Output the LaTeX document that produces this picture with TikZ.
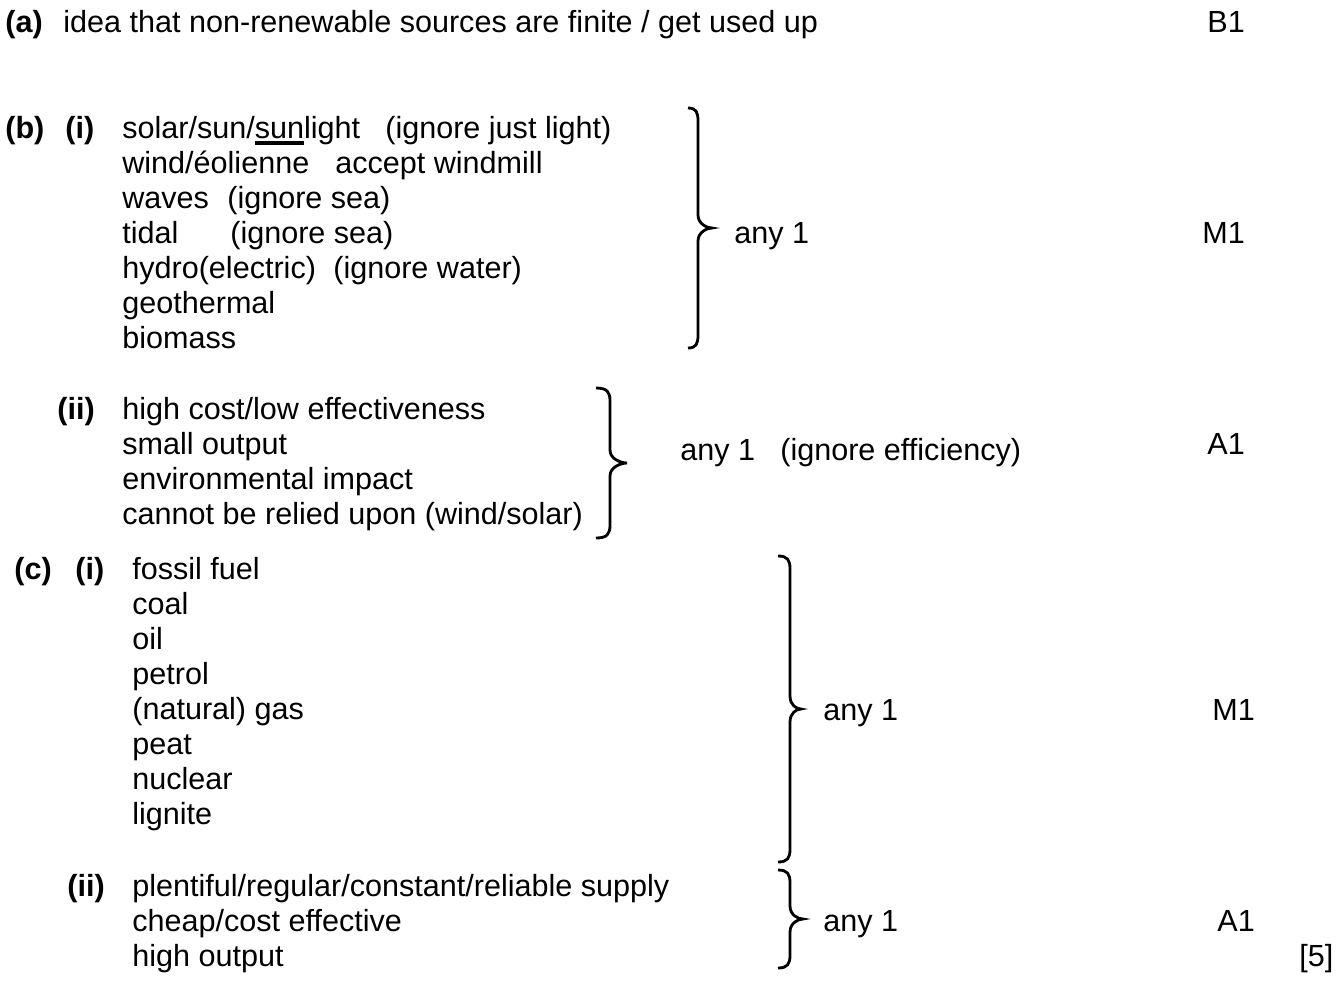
\documentclass[tikz,border=0pt]{standalone}
\usepackage{fontspec}
\setmainfont{Liberation Sans}

\newcommand{\thickul}[1]{\setbox0\hbox{#1}\rlap{\rule[-3.8pt]{\wd0}{2pt}}\box0}
\newcommand{\markbrace}[5]{% x, top, bottom, stem offset, tip offset
  \draw[brace] (#1,#2) .. controls ({#1+0.8*#4},#2) and ({#1+#4},{#2+4}) .. ({#1+#4},{#2+13})
    -- ({#1+#4},{(#2+#3)/2-13}) .. controls ({#1+#4},{(#2+#3)/2-4}) and ({#1+0.8*#5},{(#2+#3)/2}) .. ({#1+#5},{(#2+#3)/2})
    .. controls ({#1+0.8*#5},{(#2+#3)/2}) and ({#1+#4},{(#2+#3)/2+4}) .. ({#1+#4},{(#2+#3)/2+13})
    -- ({#1+#4},{#3-13}) .. controls ({#1+#4},{#3-4}) and ({#1+0.8*#4},#3) .. (#1,#3);}

\tikzset{
  txt/.style={anchor=base west, inner sep=0pt, font=\fontsize{17.4}{20}\selectfont},
  lbl/.style={txt, font=\fontsize{17.4}{20}\selectfont\bfseries},
  brace/.style={line width=1.6pt}
}

\begin{document}
\begin{tikzpicture}[x=0.02cm, y=-0.02cm]
\useasboundingbox (0,0) rectangle (1339,985);

\node[lbl] (a) at (5,32) {(a)};
\node[txt] (ai) at (63,32) {idea that non-renewable sources are finite / get used up};
\node[txt] (aB) at (1207,32) {B1};

\node[lbl] (b) at (5,138) {(b)};
\node[lbl] (bi) at (65,138) {(i)};
\node[txt] (bi1) at (122,138) {solar/sun/\thickul{sun}light};
\node[txt] (bi1n) at (385,138) {(ignore just light)};
\node[txt] (bi2) at (122,173) {wind/éolienne};
\node[txt] (bi2n) at (335,173) {accept windmill};
\node[txt] (bi3) at (122,208) {waves};
\node[txt] (bi3n) at (227,208) {(ignore sea)};
\node[txt] (bi4) at (122,243) {tidal};
\node[txt] (bi4n) at (230,243) {(ignore sea)};
\node[txt] (bi5) at (122,278) {hydro(electric)};
\node[txt] (bi5n) at (333,278) {(ignore water)};
\node[txt] (bi6) at (122,313) {geothermal};
\node[txt] (bi7) at (122,348) {biomass};
\markbrace{688}{108}{348}{10}{24}
\node[txt] (biany) at (734,243) {any 1};
\node[txt] (biM) at (1202,243) {M1};

\node[lbl] (bii) at (57,419) {(ii)};
\node[txt] (bii1) at (122,419) {high cost/low effectiveness};
\node[txt] (bii2) at (122,454) {small output};
\node[txt] (bii3) at (122,489) {environmental impact};
\node[txt] (bii4) at (122,524) {cannot be relied upon (wind/solar)};
\markbrace{596}{388}{538}{14}{31}
\node[txt] (biiany) at (680,460) {any 1};
\node[txt] (biin) at (780,460) {(ignore efficiency)};
\node[txt] (biiA) at (1207,454) {A1};

\node[lbl] (c) at (14,579) {(c)};
\node[lbl] (ci) at (75,579) {(i)};
\node[txt] (ci1) at (132,579) {fossil fuel};
\node[txt] (ci2) at (132,614) {coal};
\node[txt] (ci3) at (132,649) {oil};
\node[txt] (ci4) at (132,684) {petrol};
\node[txt] (ci5) at (132,719) {(natural) gas};
\node[txt] (ci6) at (132,754) {peat};
\node[txt] (ci7) at (132,789) {nuclear};
\node[txt] (ci8) at (132,824) {lignite};
\markbrace{778}{556}{862}{12}{23}
\node[txt] (ciany) at (823,720) {any 1};
\node[txt] (ciM) at (1212,720) {M1};

\node[lbl] (cii) at (67,896) {(ii)};
\node[txt] (cii1) at (132,896) {plentiful/regular/constant/reliable supply};
\node[txt] (cii2) at (132,931) {cheap/cost effective};
\node[txt] (cii3) at (132,966) {high output};
\markbrace{778}{870}{968}{12}{25}
\node[txt] (ciiany) at (823,931) {any 1};
\node[txt] (ciiA) at (1217,931) {A1};
\node[txt] (tot) at (1299,966) {[5]};
\end{tikzpicture}
\end{document}
